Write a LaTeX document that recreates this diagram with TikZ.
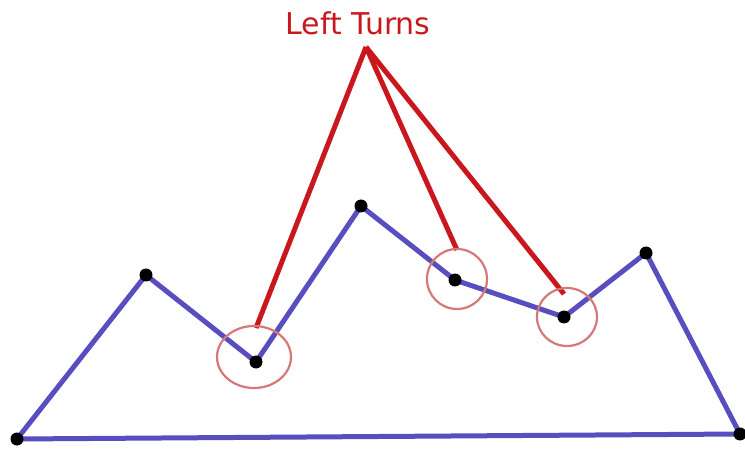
\documentclass[tikz,border=0pt]{standalone}
\usepackage{fontspec}
\setmainfont{DejaVu Sans}
\definecolor{hullblue}{RGB}{88, 78, 192}
\definecolor{turnred}{RGB}{200, 24, 30}
\definecolor{ringred}{RGB}{214, 120, 120}
\usepackage{tikz}

\begin{document}
\begin{tikzpicture}[x=1pt, y=-1pt,
        hull/.style={draw=hullblue, line width=5pt, line join=round},
        pointer/.style={draw=turnred, line width=5pt},
        ring/.style={draw=ringred, line width=2.2pt},
        vertex/.style={fill=black}
      ]
        \useasboundingbox (0,0) rectangle (745,449);
        % polygon corners
        \coordinate (p1) at (17,439);
        \coordinate (p2) at (146,275);
        \coordinate (p3) at (256,362);
        \coordinate (p4) at (361,206);
        \coordinate (p5) at (455,280);
        \coordinate (p6) at (564,317);
        \coordinate (p7) at (646,253);
        \coordinate (p8) at (740,434);

        \node[text=turnred, font=\fontsize{30}{33}\selectfont, inner sep=0pt] (label) at (358,23) {Left Turns};
        \coordinate (apex) at (366,47);
        \coordinate (tipa) at (256,328);
        \coordinate (tipb) at (457,250);
        \coordinate (tipc) at (564,294);

        \draw[pointer] (apex) -- (tipa);
        \draw[pointer] (apex) -- (tipb);
        \draw[pointer] (apex) -- (tipc);

        \draw[hull] (p1) -- (p2) -- (p3) -- (p4) -- (p5) -- (p6) -- (p7) -- (p8) -- cycle;
        \foreach \i in {1,...,8}
          \fill[vertex] (p\i) circle (6.5);

        \draw[ring] (254,357) ellipse (37 and 31);
        \draw[ring] (457,279) circle (30);
        \draw[ring] (567,317) ellipse (30 and 29);
      \end{tikzpicture}
\end{document}
